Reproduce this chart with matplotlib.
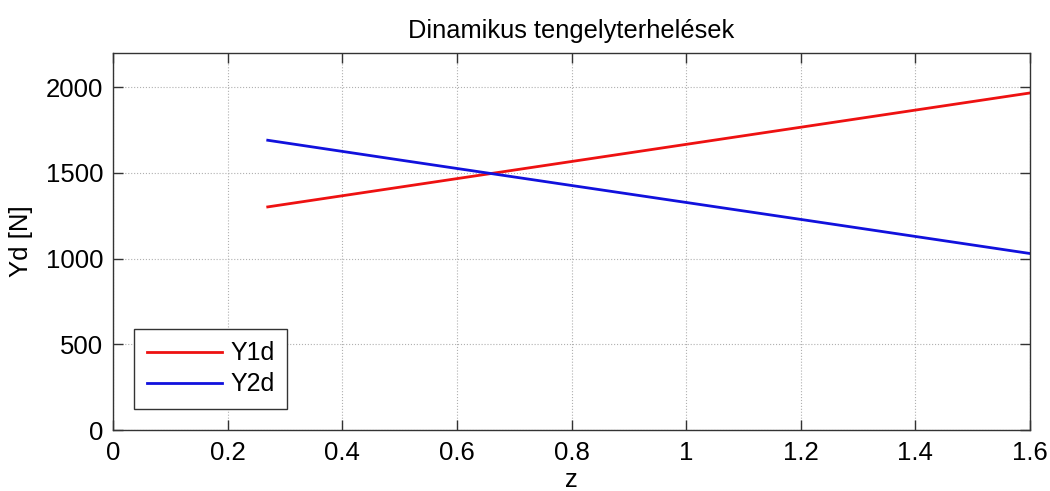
import matplotlib
matplotlib.use('Agg')
import matplotlib.pyplot as plt

# values
z = [0.27, 0.5, 0.8, 1.2, 1.6]
y1d = [1302, 1417, 1567, 1767, 1967]
y2d = [1691, 1576, 1427, 1229, 1030]

x_ticks = [0, 0.2, 0.4, 0.6, 0.8, 1, 1.2, 1.4, 1.6]
x_tick_labels = ['0', '0.2', '0.4', '0.6', '0.8', '1', '1.2', '1.4', '1.6']
y_ticks = [0, 500, 1000, 1500, 2000]

plt.rcParams['font.family'] = ['Liberation Sans', 'DejaVu Sans']

fig = plt.figure(figsize=(10.5, 4.91), dpi=100)
ax = fig.add_axes([0.1076, 0.1242, 0.8734, 0.7678])

ax.plot(z, y1d, color='#ee1111', linewidth=2, label='Y1d')
ax.plot(z, y2d, color='#1111dd', linewidth=2, label='Y2d')

ax.set_xlim(0, 1.6)
ax.set_ylim(0, 2200)
ax.set_xticks(x_ticks)
ax.set_xticklabels(x_tick_labels)
ax.set_yticks(y_ticks)

ax.grid(True, linestyle=':', color='#b0b0b0', linewidth=0.8)
ax.tick_params(direction='in', length=7, width=1, top=True, right=True,
               labelsize=18.5, colors='#333333', labelcolor='black')
ax.tick_params(axis='x', pad=8)
ax.tick_params(axis='y', pad=7)
for s in ax.spines.values():
    s.set_color('#333333')
    s.set_linewidth(1)

ax.set_title('Dinamikus tengelyterhelések', fontsize=18.3, pad=11)
ax.set_xlabel('z', fontsize=18.5, labelpad=2)
ax.set_ylabel('Yd [N]', fontsize=18.5, labelpad=9)

leg = ax.legend(loc='lower left', fontsize=18, fancybox=False, framealpha=1,
                edgecolor='#333333', handlelength=3.0, handletextpad=0.35,
                borderpad=0.5, labelspacing=0.28, borderaxespad=0,
                bbox_to_anchor=(0.023, 0.056))
leg.get_frame().set_linewidth(1)

fig.savefig('out.png', dpi=100)
